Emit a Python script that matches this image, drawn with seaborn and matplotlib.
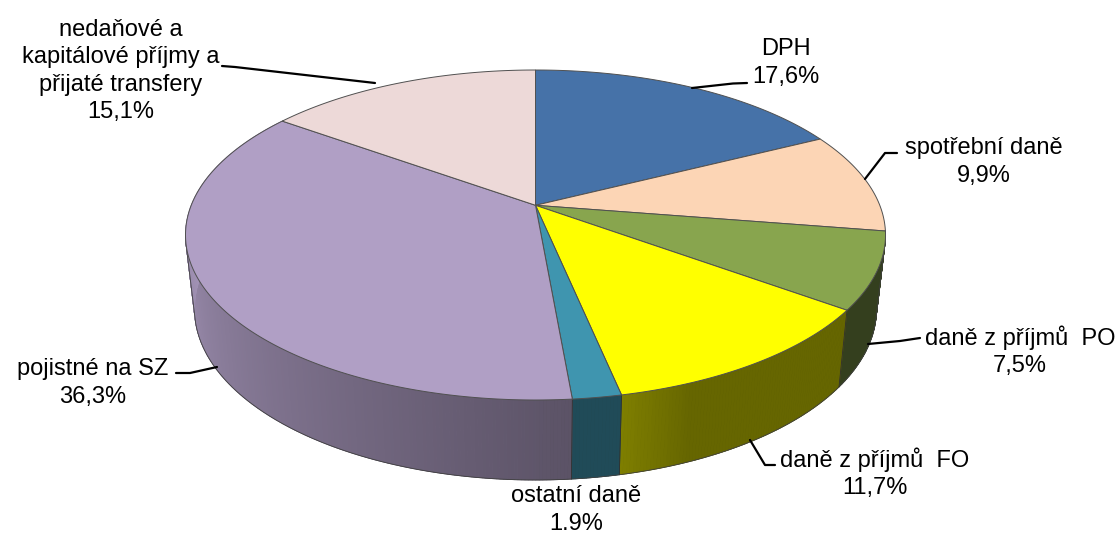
import numpy as np
import seaborn as sns
import matplotlib
matplotlib.use('Agg')
import matplotlib.pyplot as plt

# struktura prijmu
labels = ['DPH', 'spotřební daně', 'daně z příjmů  PO', 'daně z příjmů  FO', 'ostatní daně', 'pojistné na SZ',
          'nedaňové a\nkapitálové příjmy a\npřijaté transfery']
values = [17.6, 9.9, 7.5, 11.7, 1.9, 36.3, 15.1]
value_labels = ['17,6%', '9,9%', '7,5%', '11,7%', '1.9%', '36,3%', '15,1%']

colors = ['#4672A8', '#FCD5B5', '#88A54E', '#FFFF00', '#3F95AF', '#B09FC5', '#EDD9D8']
label_pos = [(786, 63), (984, 162), (1020, 351), (875, 473), (576, 510), (93, 383), (121, 71)]
leaders = [[(747, 83), (733, 83.5), (692, 88)],
           [(897, 153), (885, 153), (865, 179)],
           [(920, 338), (900, 341), (868, 344)],
           [(775, 465), (765, 465), (750, 440)],
           None,
           [(176, 373), (190, 373), (217, 367)],
           [(222, 66), (235, 67), (375, 83)]]

sns.set_theme(style='white')
plt.rcParams['font.family'] = ['Liberation Sans', 'DejaVu Sans']
palette = sns.color_palette(colors)

# perspektiva: kruh -> elipsa, stred kolace neni stred elipsy
a = -0.18
def project(theta, cx, cy, rx, ry):
    x = np.sin(theta)
    y = -np.cos(theta)
    d = 1 + a * y
    return cx + rx * x * np.sqrt(1 - a ** 2) / d, cy + ry * (y + a) / d

def top(theta):
    return project(theta, 535.5, 235, 350, 165)

def bottom(theta):
    return project(theta, 535.5, 309, 341, 171)

# ztmaveni boku podle polohy
def shade(i, t):
    if i == 5:
        return 0.52 + 0.4 * t
    if i == 3:
        return 0.40 + 0.10 * np.clip((t - 0.75) / 0.25, 0, 1)
    if i == 2:
        return 0.38
    return 0.5

# spodni obalka obou elips (x roste, y dolu)
def lower_chain():
    th = np.linspace(0, 2 * np.pi, 1441)
    pts = sorted(zip(*top(th))) + sorted(zip(*bottom(th)))
    pts = sorted(pts)
    chain = []
    for p in pts:
        while len(chain) > 1:
            o, q = chain[-2], chain[-1]
            if (q[0] - o[0]) * (p[1] - o[1]) - (q[1] - o[1]) * (p[0] - o[0]) >= 0:
                chain.pop()
            else:
                break
        chain.append(p)
    return np.array(chain)

fig = plt.figure(figsize=(11.19, 5.33), dpi=100)
ax = fig.add_axes([0, 0, 1, 1])
ax.set_xlim(0, 1119)
ax.set_ylim(533, 0)
ax.axis('off')

edges = np.cumsum([0] + values) / sum(values) * 2 * np.pi

# podklad boku az po obrys
chain = lower_chain()
left = chain[chain[:, 0] < 535.5]
right = chain[chain[:, 0] >= 535.5]
ax.fill(np.r_[left[:, 0], 535.5], np.r_[left[:, 1], 235], color=np.array(palette[5]) * shade(5, 1), lw=0, zorder=1)
ax.fill(np.r_[535.5, right[:, 0]], np.r_[235, right[:, 1]], color=np.array(palette[2]) * shade(2, 0), lw=0, zorder=1)

# boky
for i in range(2, 6):
    n = max(int((edges[i + 1] - edges[i]) / np.radians(0.5)), 1)
    th = np.linspace(edges[i], edges[i + 1], n + 1)
    x1, y1 = top(th)
    x2, y2 = bottom(th)
    for j in range(n):
        t = j / n
        if i == 5:
            t = np.clip((np.degrees(th[j]) - 175) / 95, 0, 1)
        c = np.array(palette[i]) * shade(i, t)
        ax.fill(np.r_[x1[j:j + 2], x2[j:j + 2][::-1]], np.r_[y1[j:j + 2], y2[j:j + 2][::-1]], color=c, lw=0.6, zorder=1.5)

# obrys dole a hrany boku
ax.plot(chain[:, 0], chain[:, 1], color='#404040', lw=0.6, zorder=2)
for e in edges[3:6]:
    x1, y1 = top(e)
    x2, y2 = bottom(e)
    ax.plot([x1, x2], [y1, y2], color='#303030', lw=0.6, zorder=2)

# vrchni plocha
apex = (535.5, 235 + 165 * a)
for i in range(len(values)):
    th = np.linspace(edges[i], edges[i + 1], 200)
    x, y = top(th)
    ax.fill(np.r_[apex[0], x], np.r_[apex[1], y], facecolor=palette[i], edgecolor='#505050', lw=0.7, zorder=3)

# popisky
for i in range(len(labels)):
    ax.text(label_pos[i][0], label_pos[i][1], labels[i] + '\n' + value_labels[i], ha='center', va='center',
            fontsize=17, color='#000000', linespacing=1.3, zorder=5)
    if leaders[i] is not None:
        p = np.array(leaders[i])
        ax.plot(p[:, 0], p[:, 1], color='#000000', lw=1.6, zorder=4)

fig.savefig('out.png', dpi=100, facecolor='white')
